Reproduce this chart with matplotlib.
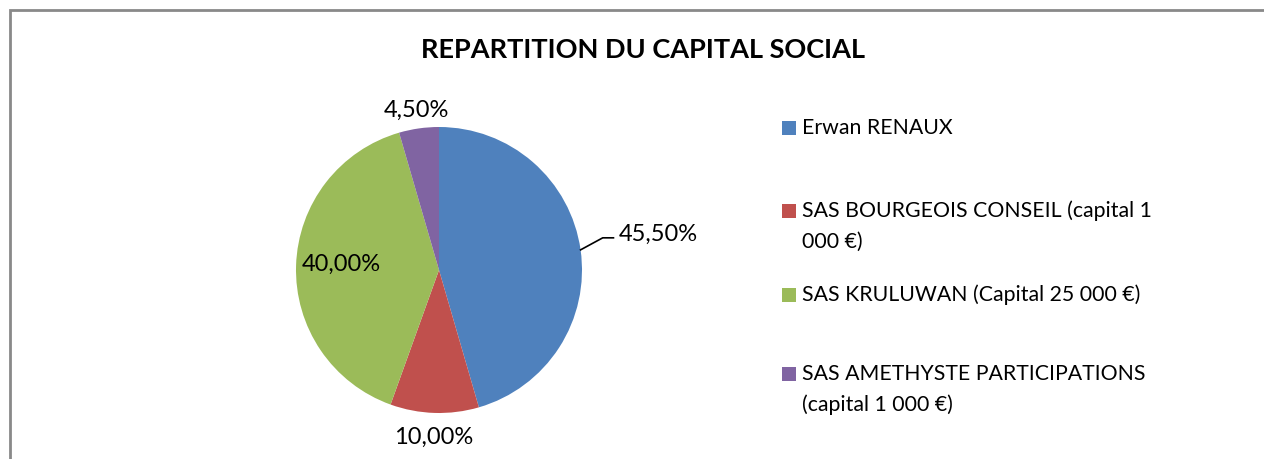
import numpy as np
from matplotlib import pyplot as plt
from matplotlib import patches as mpatches
from matplotlib.lines import Line2D

plt.rcParams['font.family'] = ['Lato', 'DejaVu Sans']

TITLE = "REPARTITION DU CAPITAL SOCIAL"
labels = ["Erwan RENAUX",
          "SAS BOURGEOIS CONSEIL (capital 1\n000 €)",
          "SAS KRULUWAN (Capital 25 000 €)",
          "SAS AMETHYSTE PARTICIPATIONS\n(capital 1 000 €)"]
shares = [45.5, 10.0, 40.0, 4.5]
share_text = ["45,50%", "10,00%", "40,00%", "4,50%"]
colors = ["#4F81BD", "#C0504D", "#9BBB59", "#8064A2"]

W, H = 1264, 459
fig = plt.figure(figsize=(W / 100, H / 100), dpi=100)


def fx(px):
    return px / W


def fy(py):
    return 1 - py / H


# outer frame: only top and left edges are visible in the picture
fig.add_artist(Line2D([fx(10), fx(10), 1.05], [-0.05, fy(10), fy(10)],
                      color="#898989", lw=2, transform=fig.transFigure,
                      solid_joinstyle="miter"))

fig.text(fx(643), fy(50), TITLE, ha="center", va="center",
         fontsize=19.5, fontweight="bold")

# pie
cx, cy, r = 439, 270, 143
ax = fig.add_axes([fx(cx - r), fy(cy + r), (2 * r) / W, (2 * r) / H])
wedges, _ = ax.pie(shares, colors=colors, startangle=90, counterclock=False,
                   radius=1.0)
ax.set_xlim(-1, 1)
ax.set_ylim(-1, 1)
ax.set_aspect("auto")
ax.axis("off")

# data labels
mids = [np.radians((w.theta1 + w.theta2) / 2) for w in wedges]
fs = 17

# 45,50% with leader line
a = mids[0]
p0 = (np.cos(a), np.sin(a))
p1 = (1.145, 0.225)
p2 = (1.22, 0.225)
ax.plot([p0[0], p1[0], p2[0]], [p0[1], p1[1], p2[1]], color="black",
        lw=1.2, clip_on=False)
ax.text(p2[0] + 0.04, 0.25, share_text[0], ha="left", va="center",
        fontsize=fs)

# 10,00% below
a = mids[1]
ax.text(1.17 * np.cos(a), 1.17 * np.sin(a), share_text[1], ha="center",
        va="center", fontsize=fs)

# 40,00% inside
a = mids[2]
ax.text(0.68 * np.cos(a), 0.68 * np.sin(a) + 0.02, share_text[2],
        ha="center", va="center", fontsize=fs)

# 4,50% above
a = mids[3]
ax.text(1.13 * np.cos(a), 1.13 * np.sin(a), share_text[3],
        ha="center", va="center", fontsize=fs)

# legend drawn by hand to keep Excel-like spacing
rows_y = [128, 211, 295, 374]
line_gap = 31
for lab, col, y in zip(labels, colors, rows_y):
    sq = mpatches.Rectangle((fx(782), fy(y + 7)), fx(14), 14 / H,
                            transform=fig.transFigure, facecolor=col,
                            edgecolor="none")
    fig.patches.append(sq)
    for i, part in enumerate(lab.split("\n")):
        fig.text(fx(802), fy(y + i * line_gap), part, ha="left",
                 va="center", fontsize=15.3)

fig.savefig("out.png", dpi=100)
